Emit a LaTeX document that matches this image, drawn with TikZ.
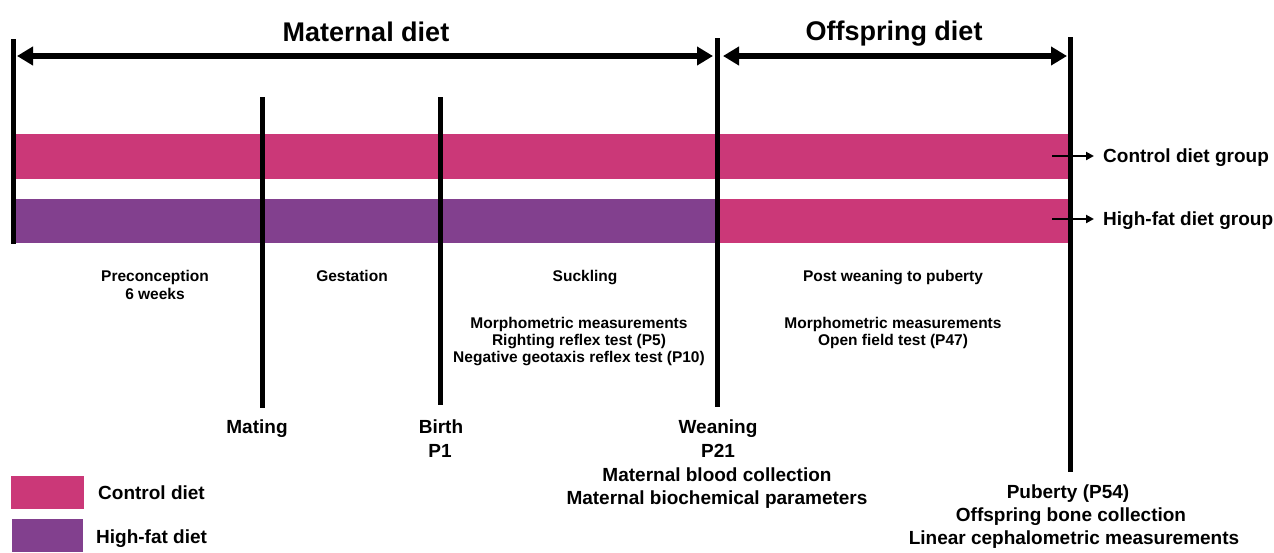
\documentclass[tikz,border=0pt]{standalone}
\usepackage{fontspec}
\setmainfont{Liberation Sans}
\usetikzlibrary{arrows.meta}
\definecolor{ctrlpink}{HTML}{CB3878}
\definecolor{hfpurple}{HTML}{82408E}
\begin{document}
\begin{tikzpicture}[x=1pt,y=-1pt]
\tikzset{
  lbl/.style={font=\bfseries\fontsize{19}{22}\selectfont, anchor=base, inner sep=0pt},
  phase/.style={font=\bfseries\fontsize{15.5}{18}\selectfont, anchor=base, inner sep=0pt},
  ttl/.style={font=\bfseries\fontsize{27}{32}\selectfont, anchor=base, inner sep=0pt},
  vline/.style={line width=5pt},
  spanarrow/.style={line width=6pt, {Triangle[length=16pt,width=18pt]}-{Triangle[length=16pt,width=18pt]}},
  grparrow/.style={line width=2pt, -{Triangle[length=8pt,width=8pt]}},
}
\useasboundingbox (0,0) rectangle (1274,552);
% bars
\fill[ctrlpink] (13,134) rectangle (1070,179);
\fill[hfpurple] (13,199) rectangle (717,243);
\fill[ctrlpink] (717,199) rectangle (1070,243);
% vertical lines
\coordinate (s0t) at (13.5,39); \coordinate (s0b) at (13.5,244);
\coordinate (mt) at (262,97);   \coordinate (mb) at (262,408);
\coordinate (bt) at (440,97);   \coordinate (bb) at (440,405);
\coordinate (wt) at (717.5,38); \coordinate (wb) at (717.5,407);
\coordinate (pt) at (1070.5,37); \coordinate (pb) at (1070.5,472);
\draw[vline] (s0t) -- (s0b);
\draw[vline] (mt) -- (mb);
\draw[vline] (bt) -- (bb);
\draw[vline] (wt) -- (wb);
\draw[vline] (pt) -- (pb);
% span arrows
\coordinate (ma1) at (17,56); \coordinate (ma2) at (713,56);
\coordinate (oa1) at (723,56); \coordinate (oa2) at (1067,56);
\draw[spanarrow] (ma1) -- (ma2);
\draw[spanarrow] (oa1) -- (oa2);
\node[ttl] (mdiet) at (366,41) {Maternal diet};
\node[ttl] (odiet) at (894,40) {Offspring diet};
% group arrows
\node[lbl, anchor=base west] (cgrp) at (1103,162) {Control diet group};
\node[lbl, anchor=base west] (hgrp) at (1103,225) {High-fat diet group};
\coordinate (ca) at (1052,156); \coordinate (cb) at (1094,156);
\coordinate (ha) at (1052,219); \coordinate (hb) at (1094,219);
\draw[grparrow] (ca) -- (cb);
\draw[grparrow] (ha) -- (hb);
% phase labels
\node[phase] (pre1) at (155,281) {Preconception};
\node[phase] (pre2) at (155,299) {6 weeks};
\node[phase] (gest) at (352,281) {Gestation};
\node[phase] (suck) at (585,281) {Suckling};
\node[phase] (post) at (893,281) {Post weaning to puberty};
\node[phase] (sm1) at (579,328) {Morphometric measurements};
\node[phase] (sm2) at (579,345) {Righting reflex test (P5)};
\node[phase] (sm3) at (579,362) {Negative geotaxis reflex test (P10)};
\node[phase] (pm1) at (893,328) {Morphometric measurements};
\node[phase] (pm2) at (893,345) {Open field test (P47)};
% event labels
\node[lbl] (mating) at (257,433) {Mating};
\node[lbl] (birth1) at (441,433) {Birth};
\node[lbl] (birth2) at (440,457) {P1};
\node[lbl] (wean1) at (718,433) {Weaning};
\node[lbl] (wean2) at (718,457) {P21};
\node[lbl] (wean3) at (717,481) {Maternal blood collection};
\node[lbl] (wean4) at (717,504) {Maternal biochemical parameters};
\node[lbl] (pub1) at (1068,498) {Puberty (P54)};
\node[lbl] (pub2) at (1071,521) {Offspring bone collection};
\node[lbl] (pub3) at (1074,544) {Linear cephalometric measurements};
% legend
\fill[ctrlpink] (11,476) rectangle (84,509);
\fill[hfpurple] (12,519) rectangle (83,552);
\node[lbl, anchor=base west] (legc) at (98,499) {Control diet};
\node[lbl, anchor=base west] (legh) at (96,543) {High-fat diet};
\end{tikzpicture}
\end{document}
